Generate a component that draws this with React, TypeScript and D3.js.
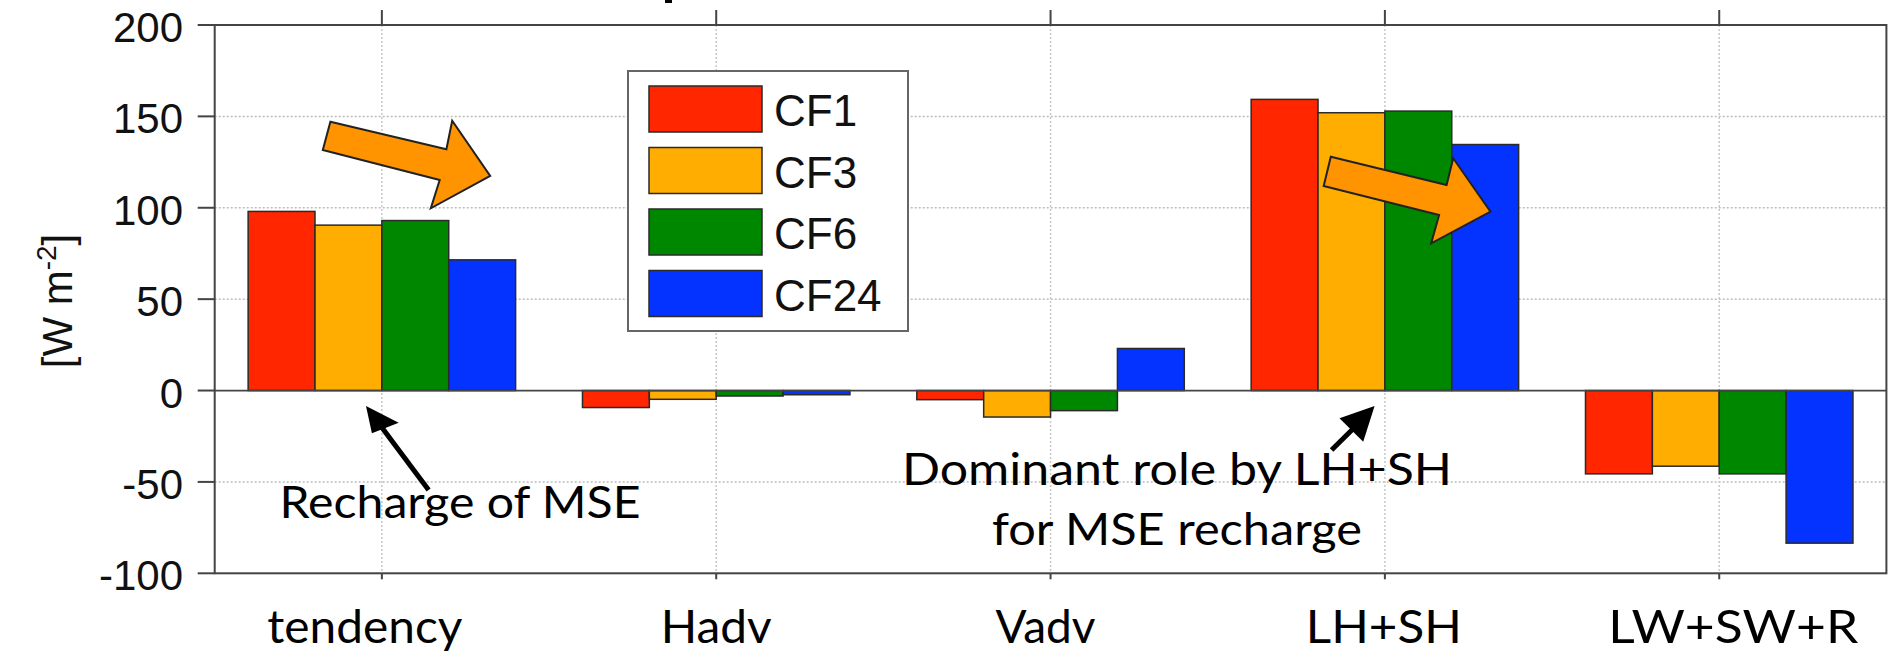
import React from "react";
import * as d3 from "d3";

const categories = ["tendency", "Hadv", "Vadv", "LH+SH", "LW+SW+R"];
const seriesNames = ["CF1", "CF3", "CF6", "CF24"];
const cf1 = [98, -9.3, -5, 159.3, -45.6];
const cf3 = [90.5, -4.8, -14.5, 152, -41.4];
const cf6 = [93, -3, -11, 152.9, -45.6];
const cf24 = [71.5, -2.3, 23, 134.6, -83.5];
const seriesValues = [cf1, cf3, cf6, cf24];
const seriesColors = ["#ff2600", "#ffad00", "#008700", "#0433ff"];
const yTicks = [-100, -50, 0, 50, 100, 150, 200];
const xLabelOffsets = [-17, 0, -5, -1, 14];
const xLabelWidths = [195, 111, 100, 156, 250];

const W = 1888, H = 656;
const plotL = 214.7, plotR = 1886.4, plotT = 25, plotB = 573.3;

const humanist = "Lato, 'Open Sans', sans-serif";
const helv = "'Liberation Sans', Arial, Helvetica, sans-serif";

export default function App() {
  const x = d3.scaleBand<string>().domain(categories).range([plotL, plotR]);
  const bw = x.bandwidth();
  const xs = d3.scaleBand<string>().domain(seriesNames).range([0.1 * bw, 0.9 * bw]);
  const y = d3.scaleLinear().domain([-100, 200]).range([plotB, plotT]);
  const cx = (c: string) => (x(c) as number) + bw / 2;
  const y0 = y(0);

  const arrowA = [[330.4, 121.7], [446.4, 149.3], [452.2, 120.7], [490.2, 176], [430.8, 208.3], [439.7, 180], [322.8, 150]];
  const arrowB = [[1330.8, 156.7], [1446.6, 185], [1453.2, 158.3], [1490.5, 211.7], [1431.2, 243.3], [1439.1, 215], [1323.7, 186]];
  const poly = (p: number[][]) => p.map((q) => q.join(",")).join(" ");

  return (
    <svg width={W} height={H} style={{ position: "absolute", left: 0, top: 0, background: "#fff" }}>
      <rect x={0} y={0} width={W} height={H} fill="#fff" />
      {/* title fragment */}
      <rect x={665} y={0} width={7} height={3} fill="#000" />
      {/* grid */}
      {yTicks.filter((t) => t !== 0 && t !== 200 && t !== -100).map((t) => (
        <line key={"gy" + t} x1={plotL} x2={plotR} y1={y(t)} y2={y(t)} stroke="#bdbdbd" strokeWidth={1.5} strokeDasharray="2,2" />
      ))}
      {categories.map((c) => (
        <line key={"gx" + c} x1={cx(c)} x2={cx(c)} y1={plotT} y2={plotB} stroke="#c8c8c8" strokeWidth={1.5} strokeDasharray="2,2" />
      ))}
      {/* bars */}
      {categories.map((c, i) =>
        seriesNames.map((s, j) => {
          const v = seriesValues[j][i];
          const yv = y(v);
          return (
            <rect key={c + s} x={(x(c) as number) + (xs(s) as number)} y={Math.min(yv, y0)} width={xs.bandwidth()}
              height={Math.abs(yv - y0)} fill={seriesColors[j]} stroke="#2a2a2a" strokeWidth={1.5} />
          );
        })
      )}
      {/* zero line */}
      <line x1={plotL} x2={plotR} y1={y0} y2={y0} stroke="#444" strokeWidth={1.8} />
      {/* frame */}
      <rect x={plotL} y={plotT} width={plotR - plotL} height={plotB - plotT} fill="none" stroke="#444" strokeWidth={2} />
      {/* y ticks */}
      {yTicks.map((t) => (
        <g key={"yt" + t}>
          <line x1={plotL - 17} x2={plotL} y1={y(t)} y2={y(t)} stroke="#444" strokeWidth={2} />
          <text x={183} y={y(t) + 17} textAnchor="end" fontFamily={helv} fontSize={42} fill="#111">{t}</text>
        </g>
      ))}
      {/* x ticks */}
      {categories.map((c, i) => (
        <g key={"xt" + c}>
          <line x1={cx(c)} x2={cx(c)} y1={plotT - 15} y2={plotT} stroke="#444" strokeWidth={2} />
          <line x1={cx(c)} x2={cx(c)} y1={plotB} y2={plotB + 6} stroke="#444" strokeWidth={2} />
          <text x={cx(c) + xLabelOffsets[i]} y={643} textAnchor="middle" fontFamily={humanist} fontSize={46}
            textLength={xLabelWidths[i]} lengthAdjust="spacingAndGlyphs" fill="#000">{c}</text>
        </g>
      ))}
      {/* y label */}
      <text transform="translate(72,301) rotate(-90)" textAnchor="middle" fontFamily={helv} fontSize={42} fill="#111">
        [W m<tspan dy={-16} fontSize={28}>-2</tspan><tspan dy={16}>]</tspan>
      </text>
      {/* legend */}
      <rect x={628} y={71} width={280} height={260} fill="#fff" stroke="#666" strokeWidth={2} />
      {seriesNames.map((s, j) => {
        const top = 86 + j * 61.5;
        return (
          <g key={"lg" + s}>
            <rect x={649} y={top} width={113} height={46} fill={seriesColors[j]} stroke="#2a2a2a" strokeWidth={1.5} />
            <text x={774} y={top + 23 + 17} fontFamily={helv} fontSize={44} fill="#111">{s}</text>
          </g>
        );
      })}
      {/* orange arrows */}
      <polygon points={poly(arrowA)} fill="#ff9300" stroke="#222" strokeWidth={2} strokeLinejoin="miter" />
      <polygon points={poly(arrowB)} fill="#ff9300" stroke="#222" strokeWidth={2} strokeLinejoin="miter" />
      {/* black arrows */}
      <line x1={428.6} y1={490} x2={380} y2={425} stroke="#000" strokeWidth={5} />
      <polygon points={poly([[366, 406], [398.7, 422.7], [371.9, 433.3]])} fill="#000" />
      <line x1={1331.6} y1={450} x2={1362} y2={420} stroke="#000" strokeWidth={5} />
      <polygon points={poly([[1374.6, 406], [1339.5, 418.3], [1363.2, 441.7]])} fill="#000" />
      {/* annotations */}
      <text x={460} y={518} textAnchor="middle" fontFamily={humanist} fontSize={44} textLength={361}
        lengthAdjust="spacingAndGlyphs" fill="#000">Recharge of MSE</text>
      <text x={1177} y={485} textAnchor="middle" fontFamily={humanist} fontSize={44} textLength={550}
        lengthAdjust="spacingAndGlyphs" fill="#000">Dominant role by LH+SH</text>
      <text x={1177} y={545} textAnchor="middle" fontFamily={humanist} fontSize={44} textLength={370}
        lengthAdjust="spacingAndGlyphs" fill="#000">for MSE recharge</text>
    </svg>
  );
}
